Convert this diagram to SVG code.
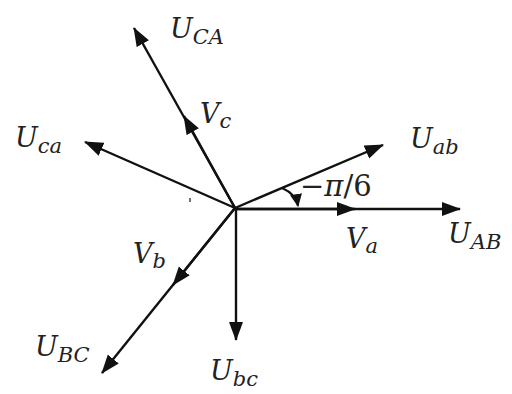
<svg xmlns="http://www.w3.org/2000/svg" width="512" height="394" viewBox="0 0 512 394">
<style>
.v{stroke:#111;stroke-width:2.4;fill:none;marker-end:url(#ah)}
.t{font-family:"DejaVu Serif","Liberation Serif",serif;font-style:italic;fill:#222;font-size:27px}
.s{font-size:21px}
</style>
<defs>
<marker id="ah" markerUnits="userSpaceOnUse" markerWidth="20" markerHeight="16" viewBox="0 0 20 16" refX="18" refY="8" orient="auto">
<path d="M0,1 L19,8 L0,15 Z" fill="#111"/>
</marker>
<marker id="ah2" markerUnits="userSpaceOnUse" markerWidth="14" markerHeight="12" viewBox="0 0 14 12" refX="12" refY="6" orient="auto">
<path d="M0,0 L13,6 L0,12 Z" fill="#111"/>
</marker>
</defs>
<rect width="512" height="394" fill="#fff"/>
<g id="connectors">
<line class="v" x1="235" y1="208" x2="134" y2="28"/>
<line class="v" x1="235" y1="208" x2="184" y2="116"/>
<line class="v" x1="235" y1="208" x2="85" y2="142"/>
<line class="v" x1="235" y1="208" x2="383" y2="145"/>
<line class="v" x1="235" y1="209" x2="460" y2="209"/>
<line class="v" x1="235" y1="209" x2="355" y2="209"/>
<line class="v" x1="236" y1="208" x2="236" y2="340"/>
<line class="v" x1="235" y1="208" x2="102" y2="373"/>
<line class="v" x1="235" y1="208" x2="173" y2="285"/>
<path d="M282,188 Q296,194 298,206" stroke="#111" stroke-width="2" fill="none" marker-end="url(#ah2)"/>
<line x1="190" y1="198" x2="190" y2="202" stroke="#444" stroke-width="1.5"/>
</g>
<g id="UCA"><text class="t" x="170" y="38">U<tspan class="s" dy="6">CA</tspan></text></g>
<g id="Vc"><text class="t" x="200" y="123">V<tspan class="s" dy="5">c</tspan></text></g>
<g id="Uca"><text class="t" x="15" y="147">U<tspan class="s" dy="6">ca</tspan></text></g>
<g id="Uab"><text class="t" x="410" y="148">U<tspan class="s" dy="6">ab</tspan></text></g>
<g id="angle"><text class="t" x="300" y="196" style="font-style:normal;font-size:29px">−<tspan style="font-style:italic">π</tspan>/6</text></g>
<g id="Va"><text class="t" x="346" y="248">V<tspan class="s" dy="5">a</tspan></text></g>
<g id="UAB"><text class="t" x="448" y="243">U<tspan class="s" dy="6">AB</tspan></text></g>
<g id="Vb"><text class="t" x="133" y="263">V<tspan class="s" dy="5">b</tspan></text></g>
<g id="UBC"><text class="t" x="35" y="356">U<tspan class="s" dy="6">BC</tspan></text></g>
<g id="Ubc"><text class="t" x="210" y="380">U<tspan class="s" dy="6">bc</tspan></text></g>
</svg>
